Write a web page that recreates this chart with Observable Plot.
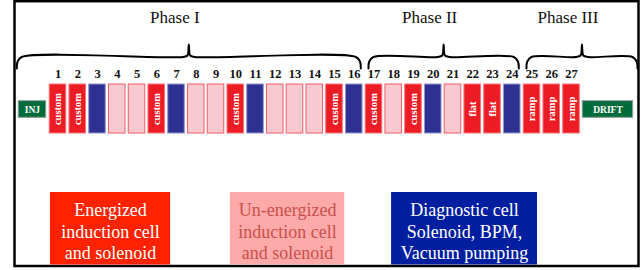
<!DOCTYPE html>
<html>
<head>
<meta charset="utf-8">
<script src="https://cdn.jsdelivr.net/npm/d3@7"></script>
<script src="https://cdn.jsdelivr.net/npm/@observablehq/plot@0.6"></script>
<style>
  html, body { margin: 0; padding: 0; background: #fff; }
  #chart svg { display: block; }
</style>
</head>
<body>
<div id="chart"></div>
<script>
// ---- data ----
const cellNumbers = [1,2,3,4,5,6,7,8,9,10,11,12,13,14,15,16,17,18,19,20,21,22,23,24,25,26,27];
const cellTypes = ["E","E","D","U","U","E","D","U","U","E","D","U","U","U","E","D","E","U","E","D","U","E","E","D","E","E","E"];
const cellLabels = ["custom","custom","","","","custom","","","","custom","","","","","custom","","custom","","custom","","","flat","flat","","ramp","ramp","ramp"];
const phaseNames = ["Phase I", "Phase II", "Phase III"];
const phaseFirstCell = [1, 17, 25];
const phaseLastCell = [16, 24, 27];
const endBlocks = ["INJ", "DRIFT"];
const legendKeys = ["E", "U", "D"];
const legendLabels = [
  "Energized\ninduction cell\nand solenoid",
  "Un-energized\ninduction cell\nand solenoid",
  "Diagnostic cell\nSolenoid, BPM,\nVacuum pumping"
];

// ---- styles / layout ----
const W = 641, H = 270;
const pitch = 19.75, origin = 37.75; // pixel of cell index 0
const half = 0.42;
const cellFill = {E: "#ed1c24", U: "#f9c9d1", D: "#2e3192"};
const cellStroke = {E: "#f4757b", U: "#ef5b67", D: "#9496cc"};
const legFill = {E: "#ff2200", U: "#ffaaaa", D: "#001ea0"};
const legText = {E: "#ffffff", U: "#c9514c", D: "#ffffff"};
const serif = "Liberation Serif, Times New Roman, serif";

const cells = cellNumbers.map((n, i) => ({n, type: cellTypes[i], label: cellLabels[i]}));

// end blocks (cell units)
const ends = [
  {name: endBlocks[0], x1: -0.985, x2: 0.40},
  {name: endBlocks[1], x1: 27.57, x2: 30.12}
];

// brace extents: Phase I begins over INJ, Phase III ends over DRIFT
const phases = phaseNames.map((name, i) => {
  const x0 = i === 0 ? ends[0].x1 - 0.1 : phaseFirstCell[i] - 0.28;
  const x1 = i === phaseNames.length - 1 ? ends[1].x2 + 0.22 : phaseLastCell[i] + 0.33;
  return {name, x0, x1, tip: (x0 + x1) / 2};
});
const yEnd = 68, yMid = 56.5, yTip = 44;
const bracePts = phases.flatMap(p => {
  const pts = [
    [p.x0, yEnd], [p.x0 + 0.04, 61], [p.x0 + 0.25, yMid],
    [p.tip - 0.3, yMid], [p.tip - 0.07, 55], [p.tip, yTip],
    [p.tip + 0.07, 55], [p.tip + 0.3, yMid],
    [p.x1 - 0.25, yMid], [p.x1 - 0.04, 61], [p.x1, yEnd]
  ];
  return pts.map(([x, y]) => ({phase: p.name, x, y}));
});

const legendBoxes = [
  {key: legendKeys[0], text: legendLabels[0], x1: 0.62, x2: 6.70},
  {key: legendKeys[1], text: legendLabels[1], x1: 9.73, x2: 15.52},
  {key: legendKeys[2], text: legendLabels[2], x1: 17.89, x2: 25.28}
];

const chart = Plot.plot({
  width: W, height: H, margin: 0,
  x: {domain: [-origin / pitch, (W - origin) / pitch], range: [0, W], axis: null},
  y: {domain: [0, H], range: [0, H], axis: null},
  style: {background: "#fff", fontFamily: serif},
  marks: [
    // outer frame
    Plot.rect([0], {x1: () => -origin / pitch + 14.5 / pitch, x2: () => (638.5 - origin) / pitch, y1: 1.2, y2: 266, fill: "none", stroke: "#000", strokeWidth: 2.5}),
    // phase labels
    Plot.text(phases, {x: "tip", y: 17, text: "name", dx: -14, fontSize: 17, fill: "#111"}),
    // braces
    Plot.line(bracePts, {x: "x", y: "y", z: "phase", stroke: "#000", strokeWidth: 2, curve: "catmull-rom"}),
    // cell numbers
    Plot.text(cells, {x: "n", y: 73, text: d => String(d.n), fontSize: 12.5, fontWeight: "bold", fill: "#111"}),
    // cells
    Plot.rect(cells, {x1: d => d.n - half, x2: d => d.n + half, y1: 84, y2: 133,
      fill: d => cellFill[d.type], stroke: d => cellStroke[d.type], strokeWidth: 1}),
    Plot.text(cells.filter(d => d.label), {x: "n", y: 108.5, text: "label", rotate: -90,
      fontSize: 10.5, fontWeight: "bold", fill: "#fff"}),
    // INJ / DRIFT
    Plot.rect(ends, {x1: "x1", x2: "x2", y1: 100.7, y2: 117.3, fill: "#006b3a", stroke: "#8a9a90", strokeWidth: 1}),
    Plot.text(ends, {x: d => (d.x1 + d.x2) / 2, y: 109.5, text: "name", fontSize: 9.5, fontWeight: "bold", fill: "#fff", letterSpacing: 0.5}),
    // legend
    Plot.rect(legendBoxes, {x1: "x1", x2: "x2", y1: 192, y2: 264.5, fill: d => legFill[d.key]}),
    Plot.text(legendBoxes, {x: d => (d.x1 + d.x2) / 2, y: 230, text: "text", fontSize: 18, lineHeight: 1.22,
      fill: d => legText[d.key]})
  ]
});
document.getElementById("chart").append(chart);
</script>
</body>
</html>
